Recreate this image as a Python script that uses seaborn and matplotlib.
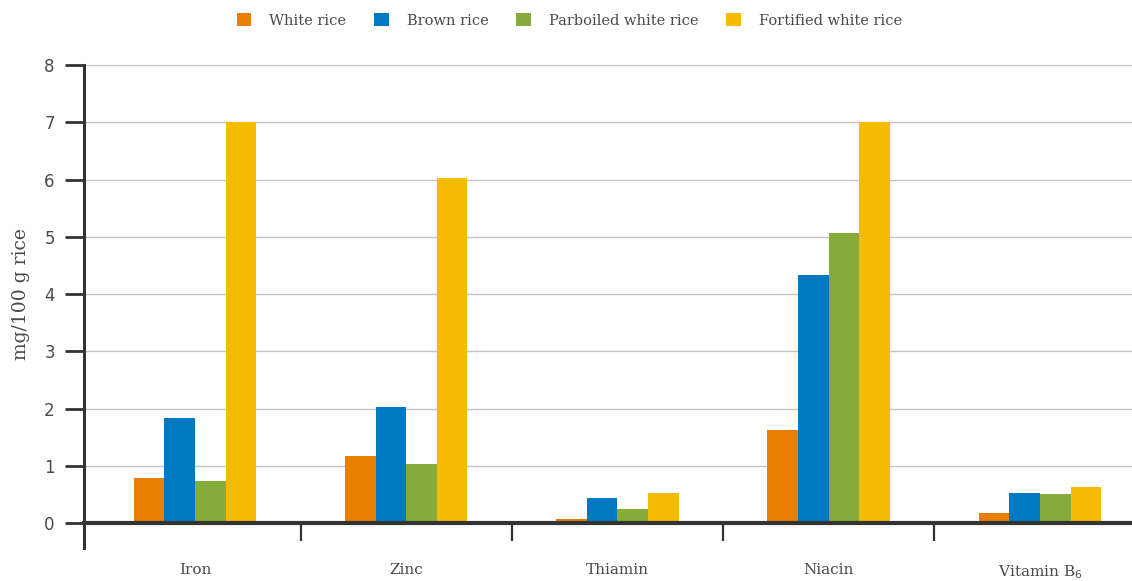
import matplotlib
matplotlib.use("Agg")
import matplotlib.pyplot as plt
import numpy as np
import pandas as pd
import seaborn as sns

sns.set_theme(style="white")
plt.rcParams['font.family'] = ['DejaVu Serif']

# nutrient values, mg per 100 g rice
nutrients = ["Iron", "Zinc", "Thiamin", "Niacin", "Vitamin B$_6$"]
rice_types = ["White rice", "Brown rice", "Parboiled white rice", "Fortified white rice"]
white_rice = [0.78, 1.17, 0.07, 1.63, 0.18]
brown_rice = [1.83, 2.03, 0.44, 4.33, 0.52]
parboiled_rice = [0.74, 1.03, 0.25, 5.07, 0.50]
fortified_rice = [7.0, 6.03, 0.53, 7.0, 0.63]
colors = ["#E87E04", "#0079C2", "#86AB3A", "#F5BB00"]

df = pd.DataFrame({
    "nutrient": nutrients * 4,
    "rice": np.repeat(rice_types, len(nutrients)),
    "value": white_rice + brown_rice + parboiled_rice + fortified_rice,
})

text_col = "#4a4a4a"
axis_col = "#333333"

fig = plt.figure(figsize=(11.32, 5.81), dpi=100)
ax = fig.add_axes([0.0742, 0.0998, 0.9258, 0.7882])

sns.barplot(data=df, x="nutrient", y="value", hue="rice", palette=colors,
            width=0.58, gap=0, saturation=1, linewidth=0, ax=ax, legend=True,
            zorder=3)

ax.set_xlim(-0.525, 4.436)
ax.set_ylim(0, 8)
ax.set_yticks(range(0, 9))
ax.yaxis.grid(True, color="#c4c4c4", linewidth=1, zorder=0)
ax.set_axisbelow(True)

for s in ["top", "right"]:
    ax.spines[s].set_visible(False)
ax.spines["left"].set_color(axis_col)
ax.spines["left"].set_linewidth(2.2)
ax.spines["left"].set_bounds(-0.43, 8)
ax.spines["left"].set_zorder(5)
ax.spines["bottom"].set_color(axis_col)
ax.spines["bottom"].set_linewidth(3)
ax.spines["bottom"].set_zorder(5)

ax.tick_params(axis="y", direction="out", length=14, width=2, color=axis_col,
               pad=7, labelsize=12, labelcolor=text_col, left=True)
for t in ax.get_yticklabels():
    t.set_family("DejaVu Sans")

# separators between nutrient groups
ax.set_xticks([0.5, 1.5, 2.5, 3.5], minor=True)
ax.tick_params(axis="x", which="minor", direction="out", length=13, width=1.6,
               color=axis_col, bottom=True)
ax.tick_params(axis="x", which="major", length=0, pad=29, labelsize=11,
               labelcolor=text_col)

ax.set_xlabel("")
ax.set_ylabel("mg/100 g rice", fontsize=13.5, color=text_col, labelpad=10)

handles, labels = ax.get_legend_handles_labels()
ax.get_legend().remove()
fig.legend(handles, labels, loc="upper center", bbox_to_anchor=(0.503, 1.0),
           ncol=4, frameon=False, fontsize=10.5, labelcolor=text_col,
           handlelength=1.0, handleheight=1.0, handletextpad=1.25,
           columnspacing=1.9)

fig.savefig("out.png", dpi=100)
